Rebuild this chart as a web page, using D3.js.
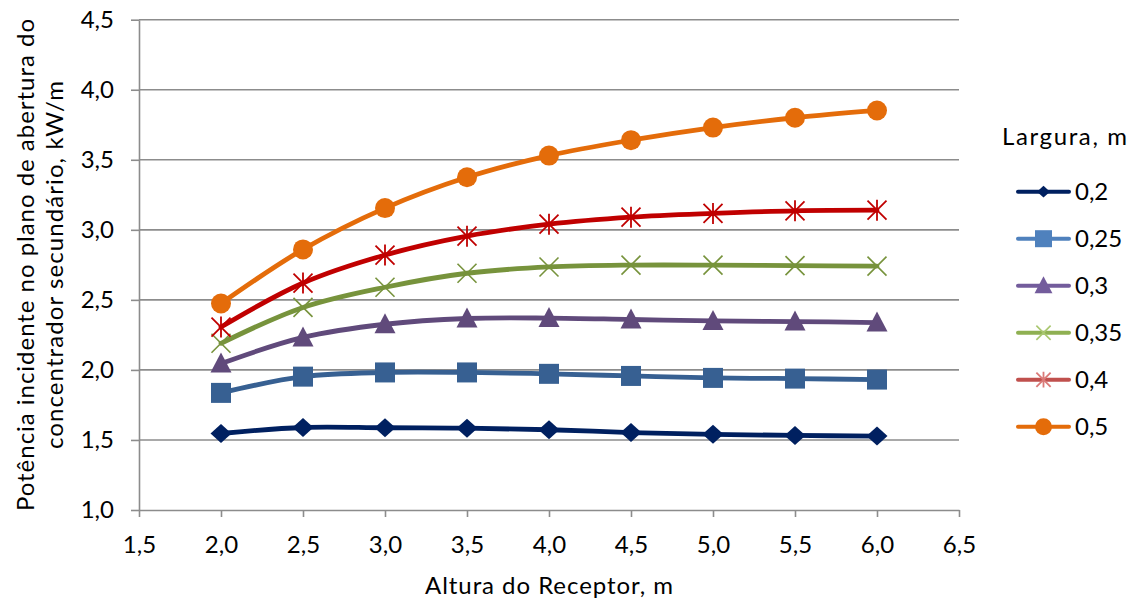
<!DOCTYPE html>
<html>
<head>
<meta charset="utf-8">
<script src="https://cdn.jsdelivr.net/npm/d3@7"></script>
<style>
  html, body { margin: 0; padding: 0; background: #fff; }
  svg { display: block; font-family: Lato, "Open Sans", sans-serif; }
</style>
</head>
<body>
<svg id="chart" width="1135" height="601"></svg>
<script>
// Altura do receptor (m)
const alturas = [2.0, 2.5, 3.0, 3.5, 4.0, 4.5, 5.0, 5.5, 6.0];

// Potência incidente (kW/m) para cada largura do concentrador
const largura02  = [1.546, 1.589, 1.587, 1.584, 1.573, 1.553, 1.540, 1.532, 1.528];
const largura025 = [1.836, 1.952, 1.982, 1.982, 1.972, 1.957, 1.943, 1.938, 1.931];
const largura03  = [2.045, 2.232, 2.326, 2.367, 2.370, 2.360, 2.350, 2.345, 2.338];
const largura035 = [2.190, 2.446, 2.590, 2.690, 2.735, 2.748, 2.748, 2.744, 2.741];
const largura04  = [2.306, 2.620, 2.820, 2.955, 3.040, 3.090, 3.117, 3.136, 3.140];
const largura05  = [2.474, 2.860, 3.155, 3.375, 3.530, 3.640, 3.730, 3.800, 3.852];

const seriesNames = ["0,2", "0,25", "0,3", "0,35", "0,4", "0,5"];
const xTicks = [1.5, 2.0, 2.5, 3.0, 3.5, 4.0, 4.5, 5.0, 5.5, 6.0, 6.5];
const yTicks = [1.0, 1.5, 2.0, 2.5, 3.0, 3.5, 4.0, 4.5];

const seriesValues = [largura02, largura025, largura03, largura035, largura04, largura05];
const markers = ["diamond", "square", "triangle", "cross", "star", "circle"];
const lineColors   = ["#002060", "#376092", "#604A7B", "#77933C", "#C00000", "#E46C0A"];
const legendColors = ["#002060", "#4F81BD", "#735C9C", "#8FB052", "#C0504D", "#E46C0A"];
const legendMarkerColors = ["#002060", "#4F81BD", "#735C9C", "#A9C76F", "#DA7A78", "#E46C0A"];

const svg = d3.select("#chart");
const fontSize = 24;

const x = d3.scaleLinear().domain([1.5, 6.5]).range([139, 959]);
const y = d3.scaleLinear().domain([1.0, 4.5]).range([510, 19.7]);

const locale = d3.formatLocale({ decimal: ",", thousands: ".", grouping: [3], currency: ["", ""] });
const fmt = locale.format(".1f");

const gridColor = "#8c8c8c";

// horizontal gridlines
svg.append("g")
  .selectAll("line")
  .data(yTicks.filter(d => d > 1.0))
  .join("line")
  .attr("x1", 139).attr("x2", 959)
  .attr("y1", d => y(d)).attr("y2", d => y(d))
  .attr("stroke", gridColor).attr("stroke-width", 1.6);

// y axis
const yAxis = svg.append("g")
  .attr("transform", "translate(139,0)")
  .call(d3.axisLeft(y).tickValues(yTicks).tickFormat(fmt).tickSize(8).tickSizeOuter(0).tickPadding(17));
yAxis.select(".domain").attr("stroke", gridColor).attr("stroke-width", 1.6);
yAxis.selectAll(".tick line").attr("stroke", gridColor).attr("stroke-width", 1.6);
yAxis.selectAll(".tick text")
  .attr("font-size", fontSize).attr("fill", "#000")
  .attr("font-family", "Lato, sans-serif");

// x axis
const xAxis = svg.append("g")
  .attr("transform", "translate(0,510)")
  .call(d3.axisBottom(x).tickValues(xTicks).tickFormat(fmt).tickSize(7).tickSizeOuter(0));
xAxis.select(".domain").attr("stroke", gridColor).attr("stroke-width", 1.6);
xAxis.selectAll(".tick line").attr("stroke", gridColor).attr("stroke-width", 1.6);
xAxis.selectAll(".tick text")
  .attr("font-size", fontSize).attr("fill", "#000")
  .attr("font-family", "Lato, sans-serif")
  .attr("y", 43).attr("dy", 0);

// axis titles
svg.append("text")
  .attr("x", 549).attr("y", 594)
  .attr("text-anchor", "middle")
  .attr("font-size", fontSize)
  .attr("textLength", 248)
  .text("Altura do Receptor, m");

const yTitle = svg.append("g").attr("transform", "translate(0,265) rotate(-90)");
yTitle.append("text")
  .attr("x", 0).attr("y", 34)
  .attr("text-anchor", "middle")
  .attr("font-size", fontSize)
  .attr("textLength", 492)
  .text("Potência incidente no plano de abertura do");
yTitle.append("text")
  .attr("x", 0).attr("y", 63)
  .attr("text-anchor", "middle")
  .attr("font-size", fontSize)
  .attr("textLength", 368)
  .text("concentrador secundário, kW/m");

// marker shapes
function drawMarker(g, type, cx, cy, color, scale) {
  const s = scale;
  if (type === "diamond") {
    g.append("path")
      .attr("d", `M${cx},${cy - 9.5 * s}L${cx + 10.5 * s},${cy}L${cx},${cy + 9.5 * s}L${cx - 10.5 * s},${cy}Z`)
      .attr("fill", color);
  } else if (type === "square") {
    g.append("rect")
      .attr("x", cx - 10 * s).attr("y", cy - 10 * s)
      .attr("width", 20 * s).attr("height", 20 * s)
      .attr("fill", color);
  } else if (type === "triangle") {
    g.append("path")
      .attr("d", `M${cx},${cy - 11 * s}L${cx + 10.5 * s},${cy + 9 * s}L${cx - 10.5 * s},${cy + 9 * s}Z`)
      .attr("fill", color);
  } else if (type === "cross") {
    g.append("path")
      .attr("d", `M${cx - 9.5 * s},${cy - 9.5 * s}L${cx + 9.5 * s},${cy + 9.5 * s}M${cx + 9.5 * s},${cy - 9.5 * s}L${cx - 9.5 * s},${cy + 9.5 * s}`)
      .attr("stroke", color).attr("stroke-width", 1.6).attr("fill", "none");
  } else if (type === "star") {
    g.append("path")
      .attr("d", `M${cx - 9.5 * s},${cy - 9.5 * s}L${cx + 9.5 * s},${cy + 9.5 * s}M${cx + 9.5 * s},${cy - 9.5 * s}L${cx - 9.5 * s},${cy + 9.5 * s}M${cx},${cy - 10.5 * s}L${cx},${cy + 10.5 * s}`)
      .attr("stroke", color).attr("stroke-width", 1.8).attr("fill", "none");
  } else if (type === "circle") {
    g.append("circle")
      .attr("cx", cx).attr("cy", cy).attr("r", 10 * s)
      .attr("fill", color);
  }
}

// series lines and markers
const line = d3.line()
  .x(d => x(d[0]))
  .y(d => y(d[1]))
  .curve(d3.curveCatmullRom.alpha(0.5));

const plot = svg.append("g");
seriesValues.forEach((vals, i) => {
  const pts = alturas.map((a, j) => [a, vals[j]]);
  const g = plot.append("g");
  g.append("path")
    .attr("d", line(pts))
    .attr("fill", "none")
    .attr("stroke", lineColors[i])
    .attr("stroke-width", 4.8)
    .attr("stroke-linejoin", "round")
    .attr("stroke-linecap", "round");
  pts.forEach(p => drawMarker(g, markers[i], x(p[0]), y(p[1]), lineColors[i], 1));
});

// legend
const legend = svg.append("g");
legend.append("text")
  .attr("x", 1002).attr("y", 145)
  .attr("font-size", fontSize)
  .attr("textLength", 125)
  .text("Largura, m");

const legendY = d3.scalePoint().domain(seriesNames).range([191.7, 426.7]);
seriesNames.forEach((name, i) => {
  const cy = legendY(name);
  const g = legend.append("g");
  g.append("line")
    .attr("x1", 1018).attr("x2", 1069)
    .attr("y1", cy).attr("y2", cy)
    .attr("stroke", legendColors[i])
    .attr("stroke-width", 4)
    .attr("stroke-linecap", "round");
  const sc = (markers[i] === "diamond") ? 0.62 : (markers[i] === "cross" || markers[i] === "star") ? 0.75 : 0.85;
  drawMarker(g, markers[i], 1043.5, cy, legendMarkerColors[i], sc);
  g.append("text")
    .attr("x", 1075).attr("y", cy)
    .attr("dy", "0.36em")
    .attr("font-size", fontSize)
    .text(name);
});
</script>
</body>
</html>
